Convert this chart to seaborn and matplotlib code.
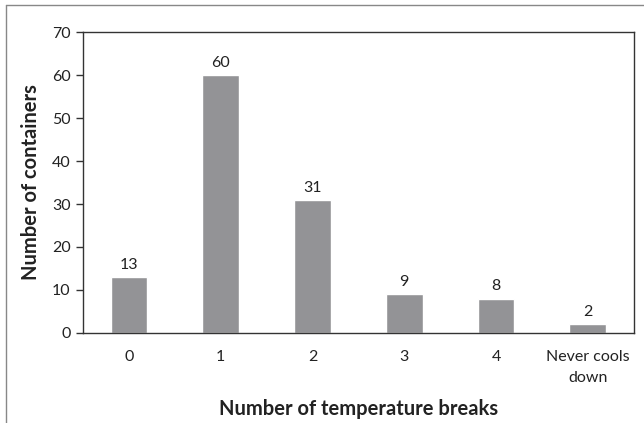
import numpy as np
import pandas as pd
import matplotlib
matplotlib.use("Agg")
import matplotlib.pyplot as plt
from matplotlib.lines import Line2D
import seaborn as sns

categories = ["0", "1", "2", "3", "4", "Never cools\ndown"]
containers = [13, 60, 31, 9, 8, 2]

sns.set_style("white")
plt.rcParams["font.family"] = ["Lato", "DejaVu Sans"]

df = pd.DataFrame({"breaks": categories, "count": containers})

fig = plt.figure(figsize=(6.44, 4.23), dpi=100)
ax = fig.add_axes([0.129, 0.213, 0.855, 0.711])
sns.barplot(data=df, x="breaks", y="count", color="#939396", width=0.4,
            saturation=1, ax=ax)

for i, v in enumerate(containers):
    ax.text(i, v + 1.2, str(v), ha="center", va="bottom", fontsize=11.5, color="#222222")

ax.set_xlim(-0.5, len(categories) - 0.5)
ax.set_ylim(0, 70)
ax.set_yticks(np.arange(0, 71, 10))
ax.set_xticks(np.arange(-0.5, len(categories), 1.0), minor=True)
ax.tick_params(axis="x", which="major", length=0, pad=12, labelsize=11.5, colors="#222222")
ax.tick_params(axis="x", which="minor", length=5, width=1, color="#333333", direction="out")
ax.tick_params(axis="y", length=5, width=1, color="#333333", direction="out",
               labelsize=11.5, colors="#222222", left=True, pad=4)
for lab in ax.get_xticklabels():
    lab.set_linespacing(1.7)
for s in ax.spines.values():
    s.set_color("#333333")
    s.set_linewidth(1)

ax.set_xlabel("Number of temperature breaks", fontsize=14.5, fontweight="bold",
              color="#222222", labelpad=10)
ax.set_ylabel("Number of containers", fontsize=14.5, fontweight="bold",
              color="#222222", labelpad=8)

# outer frame (top and left edges visible)
fig.add_artist(Line2D([6 / 644, 1.0], [1 - 5 / 423, 1 - 5 / 423], transform=fig.transFigure,
                      color="#888888", linewidth=1))
fig.add_artist(Line2D([6 / 644, 6 / 644], [0.0, 1 - 5 / 423], transform=fig.transFigure,
                      color="#888888", linewidth=1))

fig.savefig("out.png", dpi=100)
